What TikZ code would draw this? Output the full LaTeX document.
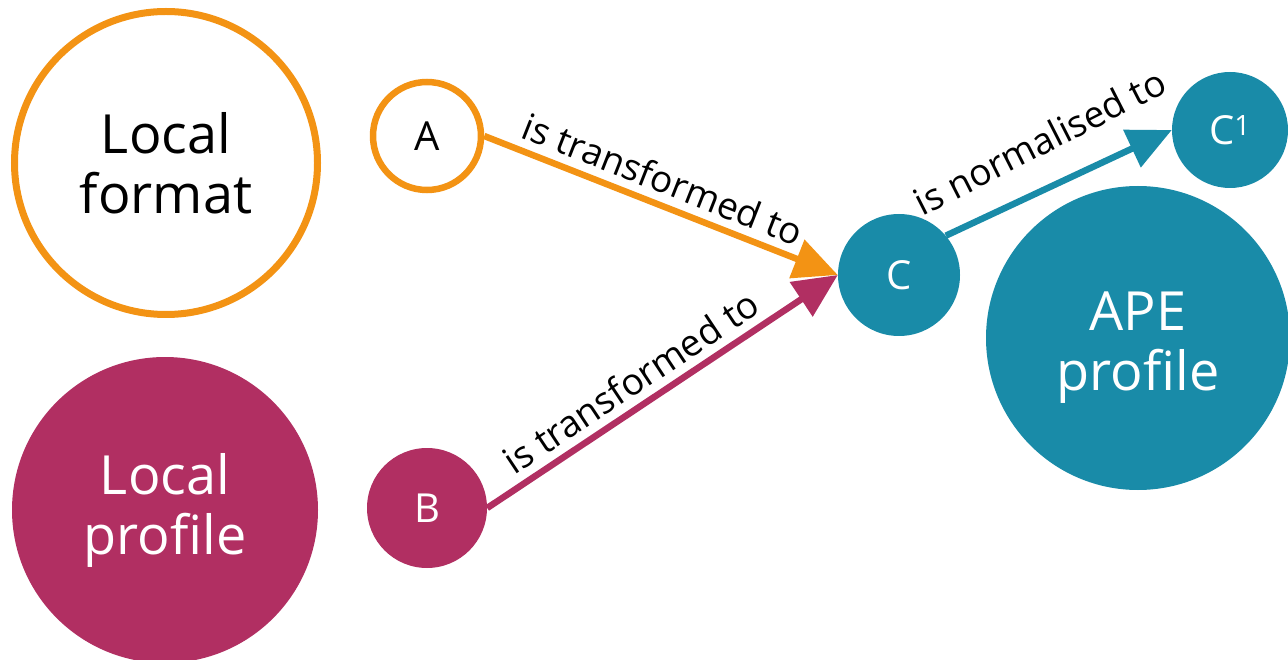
\documentclass[tikz,border=0pt]{standalone}
\usepackage{fontspec}
\setmainfont{Open Sans}
\usetikzlibrary{arrows.meta}
\definecolor{orng}{HTML}{F39314}
\definecolor{mag}{HTML}{B12F62}
\definecolor{teal}{HTML}{198BA8}
\tikzset{
  big/.style={circle, inner sep=0pt, align=center, font=\fontsize{54}{60}\selectfont},
  small/.style={circle, inner sep=0pt, font=\fontsize{40}{44}\selectfont},
  lbl/.style={font=\fontsize{37}{40}\selectfont, inner sep=2pt, text=black},
  conn/.style={line width=6.5pt, -{Triangle[length=44pt,width=40pt]}},
}
\begin{document}
\begin{tikzpicture}[x=1pt,y=-1pt]
\useasboundingbox (0,0) rectangle (1288,660);
\node[big, draw=orng, line width=7pt, minimum size=303pt] (LF) at (166,163) {Local\\format};
\node[big, fill=mag, text=white, minimum size=306pt] (LP) at (165,510) {Local\\profile};
\node[small, draw=orng, line width=6.5pt, minimum size=108pt] (A) at (427,136) {A};
\node[small, fill=mag, text=white, minimum size=120pt] (B) at (427,508) {B};
\node[small, fill=teal, text=white, minimum size=122pt] (C) at (899,275) {C};
\node[small, fill=teal, text=white, minimum size=116pt] (C1) at (1230,130) {C\textsuperscript{1}};
\node[circle, fill=teal, minimum size=304pt] (APE) at (1138,338) {};
\node[big, text=white] (APEt) at ([yshift=-10pt]APE.center) {APE\\profile};
\draw[conn, orng] (A.east) -- node[lbl, sloped, above=6pt, pos=0.48] (l1) {is transformed to} (C.west);
\draw[conn, mag] (B.east) -- node[lbl, sloped, above=6pt, pos=0.45] (l2) {is transformed to} (C.west);
\draw[conn, teal] (C.40) -- (C1.west);
\node[lbl, anchor=base, rotate=27] (l3) at (1046,154) {is normalised to};
\end{tikzpicture}
\end{document}
